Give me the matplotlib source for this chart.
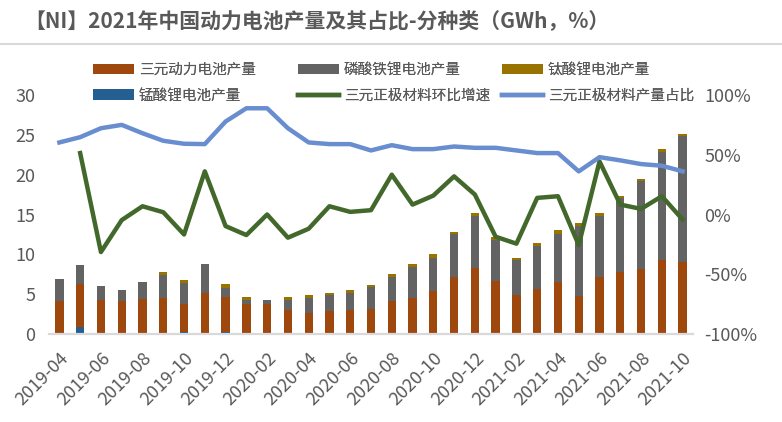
import matplotlib
matplotlib.use("Agg")
import matplotlib.pyplot as plt
from matplotlib.lines import Line2D
from matplotlib.ticker import FuncFormatter
import numpy as np

plt.rcParams['font.family'] = ['Noto Sans CJK SC', 'DejaVu Sans']

months = [
    "2019-04", "2019-05", "2019-06", "2019-07", "2019-08", "2019-09", "2019-10",
    "2019-11", "2019-12", "2020-01", "2020-02", "2020-03", "2020-04", "2020-05",
    "2020-06", "2020-07", "2020-08", "2020-09", "2020-10", "2020-11", "2020-12",
    "2021-01", "2021-02", "2021-03", "2021-04", "2021-05", "2021-06", "2021-07",
    "2021-08", "2021-09", "2021-10",
]

# GWh
manganese = [0, 0.9, 0, 0, 0, 0.1, 0.3, 0.1, 0.3, 0.1, 0, 0.05, 0.05, 0.05, 0.05,
             0.05, 0.05, 0.05, 0.05, 0.05, 0.05, 0.05, 0.05, 0.05, 0.05, 0.05,
             0.05, 0.05, 0.05, 0.05, 0.05]
ternary = [4.1, 5.35, 4.25, 4.1, 4.4, 4.4, 3.45, 5.0, 4.3, 3.65, 3.75, 2.95, 2.55,
           2.8, 2.95, 3.05, 4.05, 4.45, 5.3, 7.05, 8.2, 6.55, 4.8, 5.55, 6.45, 4.75,
           7.05, 7.75, 8.05, 9.3, 8.95]
lfp = [2.8, 2.35, 1.75, 1.4, 2.1, 2.9, 2.65, 3.65, 1.15, 0.5, 0.5, 1.25, 1.9, 2.1,
       2.1, 2.75, 3.0, 3.9, 4.25, 5.4, 6.5, 5.25, 4.4, 5.4, 6.1, 8.7, 7.75, 9.3,
       11.1, 13.5, 15.9]
titanate = [0, 0, 0, 0, 0, 0.35, 0.35, 0, 0.5, 0.35, 0, 0.35, 0.35, 0.25, 0.4, 0.25,
            0.4, 0.4, 0.4, 0.25, 0.5, 0.3, 0.25, 0.4, 0.4, 0.4, 0.4, 0.25, 0.25,
            0.4, 0.25]

# %
cathode_mom = [np.nan, 51.4, -31.4, -4.7, 6.9, 1.9, -16.7, 36.1, -9.7, -17.2, 0.0,
               -19.4, -11.9, 6.9, 2.2, 3.6, 33.3, 8.3, 15.8, 31.9, 16.7, -18.6,
               -24.4, 13.9, 15.3, -25.6, 44.4, 8.3, 4.7, 15.3, -4.2]
cathode_share = [60.3, 64.7, 72.2, 75.0, 68.0, 61.7, 59.2, 58.9, 77.8, 88.9, 88.9,
                 72.2, 60.3, 58.9, 58.9, 53.6, 58.0, 54.7, 54.7, 56.9, 55.8, 55.8,
                 53.6, 51.4, 51.4, 36.1, 48.0, 45.3, 42.2, 40.8, 36.1]

C_TERN = "#9E480E"
C_LFP = "#636363"
C_TI = "#997300"
C_MN = "#255E91"
C_MOM = "#43682B"
C_SHARE = "#698ED0"
TXT = "#595959"

W, H = 782, 422
fig = plt.figure(figsize=(W / 100, H / 100), dpi=100)
ax = fig.add_axes([49 / W, 1 - 334 / H, (693 - 49) / W, (334 - 95) / H])
ax2 = ax.twinx()

x = np.arange(len(months))
mn = np.array(manganese)
te = np.array(ternary)
lf = np.array(lfp)
ti = np.array(titanate)
bw = 0.4
ax.bar(x, mn, bw, color=C_MN, label="锰酸锂电池产量")
ax.bar(x, te, bw, bottom=mn, color=C_TERN, label="三元动力电池产量")
ax.bar(x, lf, bw, bottom=mn + te, color=C_LFP, label="磷酸铁锂电池产量")
ax.bar(x, ti, bw, bottom=mn + te + lf, color=C_TI, label="钛酸锂电池产量")

ax2.plot(x, cathode_mom, color=C_MOM, lw=3.2, label="三元正极材料环比增速")
ax2.plot(x, cathode_share, color=C_SHARE, lw=3.2, label="三元正极材料产量占比")

ax.set_xlim(-0.5, len(months) - 0.5)
ax.set_ylim(0, 30)
ax.set_yticks(range(0, 31, 5))
ax2.set_ylim(-100, 100)
ax2.set_yticks(range(-100, 101, 50))
ax2.yaxis.set_major_formatter(FuncFormatter(lambda v, _: f"{v:.0f}%"))

ax.set_xticks(x[::2])
ax.set_xticklabels(months[::2], rotation=45, ha="right", rotation_mode="anchor")

for a in (ax, ax2):
    for s in a.spines.values():
        s.set_visible(False)
    a.tick_params(length=0, colors=TXT, labelsize=13)
ax.spines["bottom"].set_visible(True)
ax.spines["bottom"].set_color("#D9D9D9")
ax.spines["bottom"].set_linewidth(1.6)
ax.tick_params(axis="x", pad=11)
ax.tick_params(axis="y", pad=10)
ax2.tick_params(axis="y", pad=8)

fig.text(24 / W, 1 - 22 / H, "【NI】2021年中国动力电池产量及其占比-分种类（GWh，%）",
         fontsize=15, fontweight="bold", color=TXT, va="center", ha="left")
fig.add_artist(Line2D([0, 1], [1 - 44 / H] * 2, transform=fig.transFigure,
                      color="#D9D9D9", lw=1.5))

# legend: three columns placed by hand
h, l = ax.get_legend_handles_labels()
h2, l2 = ax2.get_legend_handles_labels()
hd = dict(zip(l + l2, h + h2))
cols = [
    (93, ["三元动力电池产量", "锰酸锂电池产量"]),
    (298, ["磷酸铁锂电池产量", "三元正极材料环比增速"]),
    (502, ["钛酸锂电池产量", "三元正极材料产量占比"]),
]
for xp, names in cols:
    leg = fig.legend([hd[n] for n in names], names, loc="upper left",
                     bbox_to_anchor=(xp / W, 1 - 63 / H), frameon=False,
                     fontsize=10.5, labelcolor=TXT, handlelength=2.8,
                     handletextpad=0.35, borderpad=0, borderaxespad=0,
                     labelspacing=0.8)
    fig.add_artist(leg)

fig.savefig("out.png", dpi=100)
